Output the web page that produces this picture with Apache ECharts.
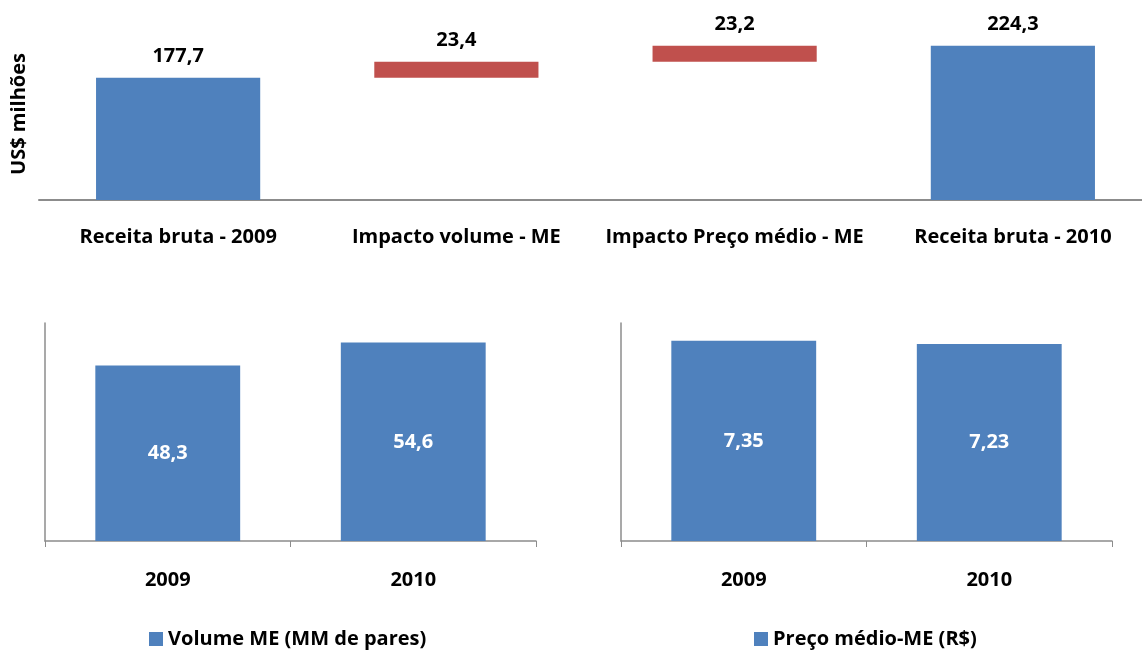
<!DOCTYPE html>
<html>
<head>
<meta charset="utf-8">
<script src="https://cdn.jsdelivr.net/npm/echarts@6/dist/echarts.min.js"></script>
<style>
    html, body { margin: 0; padding: 0; background: #fff; overflow: hidden; }
    #chart { width: 1160px; height: 650px; }
</style>
</head>
<body>
<div id="chart"></div>
<script>
// dados do gráfico
const bridgeCategories = ['Receita bruta - 2009', 'Impacto volume - ME', 'Impacto Preço médio - ME', 'Receita bruta - 2010'];
const bridgeValues = [177.7, 23.4, 23.2, 224.3];
const bridgeIsTotal = [true, false, false, true];

const years = ['2009', '2010'];
const volumeValues = [48.3, 54.6];
const priceValues = [7.35, 7.23];

const BLUE = '#4F81BD';
const RED = '#C0504D';
const AXIS = '#8C8C8C';
const FONT = 'Open Sans';
const FS = 20;

// base invisível da cascata (soma acumulada)
let running = 0;
const bridgeBase = bridgeValues.map((v, i) => {
    if (bridgeIsTotal[i]) { running = v; return 0; }
    const b = running;
    running += v;
    return b;
});

const fmt = (d) => (v) => v.toFixed(d).replace('.', ',');
const boldText = (color) => ({ fontFamily: FONT, fontWeight: 'bold', fontSize: FS, color: color });

const myChart = echarts.init(document.getElementById('chart'));

const option = {
    animation: false,
    textStyle: { fontFamily: FONT },
    grid: [
        { left: 39, top: 28, width: 1113, height: 172 },
        { left: 45, top: 323, width: 491, height: 218 },
        { left: 621, top: 323, width: 491, height: 218 }
    ],
    legend: [
        {
            data: ['Volume ME (MM de pares)'],
            left: 144, top: 624,
            icon: 'rect', itemWidth: 14, itemHeight: 14, itemGap: 6,
            textStyle: boldText('#000')
        },
        {
            data: ['Preço médio-ME (R$)'],
            left: 749, top: 624,
            icon: 'rect', itemWidth: 14, itemHeight: 14, itemGap: 6,
            textStyle: boldText('#000')
        }
    ],
    xAxis: [
        {
            gridIndex: 0, type: 'category', data: bridgeCategories,
            axisLine: { lineStyle: { color: AXIS, width: 2 } },
            axisTick: { show: false },
            axisLabel: Object.assign({ margin: 27, interval: 0 }, boldText('#000'))
        },
        {
            gridIndex: 1, type: 'category', data: years,
            axisLine: { lineStyle: { color: AXIS, width: 1.5 } },
            axisTick: { show: true, length: 6, lineStyle: { color: AXIS } },
            axisLabel: Object.assign({ margin: 29, interval: 0 }, boldText('#000'))
        },
        {
            gridIndex: 2, type: 'category', data: years,
            axisLine: { lineStyle: { color: AXIS, width: 1.5 } },
            axisTick: { show: true, length: 6, lineStyle: { color: AXIS } },
            axisLabel: Object.assign({ margin: 29, interval: 0 }, boldText('#000'))
        }
    ],
    yAxis: [
        {
            gridIndex: 0, type: 'value', min: 0, max: 250,
            name: 'US$ milhões', nameLocation: 'middle', nameRotate: 90, nameGap: 10,
            nameTextStyle: boldText('#000'),
            axisLine: { show: false }, axisTick: { show: false },
            axisLabel: { show: false }, splitLine: { show: false }
        },
        {
            gridIndex: 1, type: 'value', min: 0, max: 60,
            axisLine: { show: true, lineStyle: { color: AXIS, width: 1.5 } },
            axisTick: { show: false }, axisLabel: { show: false }, splitLine: { show: false }
        },
        {
            gridIndex: 2, type: 'value', min: 0, max: 8,
            axisLine: { show: true, lineStyle: { color: AXIS, width: 1.5 } },
            axisTick: { show: false }, axisLabel: { show: false }, splitLine: { show: false }
        }
    ],
    series: [
        {
            name: 'base', type: 'bar', xAxisIndex: 0, yAxisIndex: 0, stack: 'ponte',
            barWidth: '59%', silent: true,
            itemStyle: { color: 'transparent' },
            data: bridgeBase
        },
        {
            name: 'Receita', type: 'bar', xAxisIndex: 0, yAxisIndex: 0, stack: 'ponte',
            barWidth: '59%',
            data: bridgeValues.map((v, i) => ({
                value: v,
                itemStyle: { color: bridgeIsTotal[i] ? BLUE : RED }
            })),
            label: Object.assign({
                show: true, position: 'top', distance: 11,
                formatter: (p) => fmt(1)(p.value)
            }, boldText('#000'))
        },
        {
            name: 'Volume ME (MM de pares)', type: 'bar', xAxisIndex: 1, yAxisIndex: 1,
            barWidth: '59%', itemStyle: { color: BLUE },
            data: volumeValues,
            label: Object.assign({
                show: true, position: 'inside',
                formatter: (p) => fmt(1)(p.value)
            }, boldText('#fff'))
        },
        {
            name: 'Preço médio-ME (R$)', type: 'bar', xAxisIndex: 2, yAxisIndex: 2,
            barWidth: '59%', itemStyle: { color: BLUE },
            data: priceValues,
            label: Object.assign({
                show: true, position: 'inside',
                formatter: (p) => fmt(2)(p.value)
            }, boldText('#fff'))
        }
    ]
};

myChart.setOption(option);
</script>
</body>
</html>
